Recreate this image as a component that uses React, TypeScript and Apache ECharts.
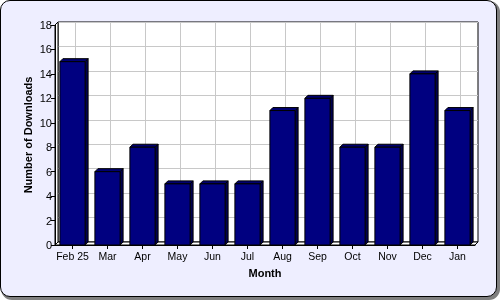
import React, { useEffect, useRef } from "react";
import * as echarts from "echarts";

const categories = ["Feb 25", "Mar", "Apr", "May", "Jun", "Jul", "Aug", "Sep", "Oct", "Nov", "Dec", "Jan"];
const downloads = [15, 6, 8, 5, 5, 5, 11, 12, 8, 8, 14, 11];
const yMin = 0;
const yMax = 18;
const yStep = 2;

const FONT = "'Liberation Sans', Arial, sans-serif";
const D = 3;

export default function App() {
  const ref = useRef<HTMLDivElement>(null);
  useEffect(() => {
    const chart = echarts.init(ref.current!, null, { renderer: "svg" });
    chart.setOption({
      animation: false,
      backgroundColor: "transparent",
      grid: [
        { left: 55, top: 25, width: 420, height: 220, show: false },
        { left: 58, top: 22, width: 420, height: 220, show: true, backgroundColor: "#ffffff", borderColor: "#000000", borderWidth: 1, z: 0 },
      ],
      xAxis: [
        {
          type: "category",
          gridIndex: 0,
          data: categories,
          axisLine: { show: true, lineStyle: { color: "#000", width: 1 } },
          axisTick: { show: true, alignWithLabel: true, length: 4, lineStyle: { color: "#000" } },
          axisLabel: { color: "#000", fontFamily: FONT, fontSize: 10.5, margin: 5, interval: 0 },
          splitLine: { show: false },
          name: "Month",
          nameLocation: "middle",
          nameGap: 22,
          nameMoveOverlap: false,
          nameTextStyle: { color: "#000", fontFamily: FONT, fontSize: 11, fontWeight: "bold" },
          z: 5,
        },
        { type: "category", gridIndex: 1, data: categories, show: false },
      ],
      yAxis: [
        {
          type: "value",
          gridIndex: 0,
          min: yMin,
          max: yMax,
          interval: yStep,
          axisLine: { show: true, lineStyle: { color: "#000", width: 1 } },
          axisTick: { show: true, length: 4, lineStyle: { color: "#000" } },
          axisLabel: { color: "#000", fontFamily: FONT, fontSize: 11, margin: 3 },
          splitLine: { show: false },
          name: "Number of Downloads",
          nameLocation: "middle",
          nameGap: 22,
          nameMoveOverlap: false,
          nameTextStyle: { color: "#000", fontFamily: FONT, fontSize: 11, fontWeight: "bold" },
          z: 5,
        },
        {
          type: "value",
          gridIndex: 1,
          min: yMin,
          max: yMax,
          interval: yStep,
          axisLine: { show: false },
          axisTick: { show: false },
          axisLabel: { show: false },
          splitLine: { show: true, lineStyle: { color: "#c8c8c8", width: 1 } },
        },
      ],
      series: [
        {
          type: "custom",
          xAxisIndex: 0,
          yAxisIndex: 0,
          z: 1,
          data: [[0, 0]],
          renderItem: (params: any, api: any) => {
            const bw = api.size([1, 0])[0];
            const first = api.coord([0, yMin]);
            const last = api.coord([categories.length - 1, yMin]);
            const top = api.coord([0, yMax])[1];
            const xl = first[0] - bw / 2;
            const xr = last[0] + bw / 2;
            const yb = first[1];
            const st = { fill: "#ffffff", stroke: "#000000", lineWidth: 1 };
            return {
              type: "group",
              children: [
                { type: "polygon", shape: { points: [[xl, yb], [xl, top], [xl + D, top - D], [xl + D, yb - D]] }, style: st },
                { type: "polygon", shape: { points: [[xl, yb], [xr, yb], [xr + D, yb - D], [xl + D, yb - D]] }, style: st },
              ],
            };
          },
        },
        {
          type: "custom",
          xAxisIndex: 0,
          yAxisIndex: 0,
          z: 2,
          data: downloads.map((v, i) => [i, v]),
          encode: { x: 0, y: 1 },
          renderItem: (params: any, api: any) => {
            const i = api.value(0);
            const v = api.value(1);
            const bw = api.size([1, 0])[0] * 0.72;
            const t = api.coord([i, v]);
            const b = api.coord([i, yMin]);
            const top = api.coord([i, yMax])[1];
            const cx = t[0];
            const x0 = cx - bw / 2;
            const x1 = cx + bw / 2;
            const yt = t[1];
            const yb = b[1];
            return {
              type: "group",
              children: [
                { type: "line", shape: { x1: cx + D, y1: top - D, x2: cx + D, y2: yb - D }, style: { stroke: "#c8c8c8", lineWidth: 1 } },
                { type: "polygon", shape: { points: [[x1, yt], [x1 + D, yt - D], [x1 + D, yb - D], [x1, yb]] }, style: { fill: "#000050", stroke: "#000", lineWidth: 1 } },
                { type: "polygon", shape: { points: [[x0, yt], [x0 + D, yt - D], [x1 + D, yt - D], [x1, yt]] }, style: { fill: "#000070", stroke: "#000", lineWidth: 1 } },
                { type: "rect", shape: { x: x0, y: yt, width: bw, height: yb - yt }, style: { fill: "#000080", stroke: "#000", lineWidth: 1 } },
              ],
            };
          },
        },
      ],
    });
    return () => chart.dispose();
  }, []);

  return (
    <div style={{ position: "fixed", left: 0, top: 0, width: 500, height: 300 }}>
      <div
        style={{
          position: "absolute",
          left: 0,
          top: 0,
          width: 495,
          height: 295,
          background: "#eeeeff",
          border: "1px solid #000",
          borderRadius: 10,
          boxShadow: "2px 2px 0 1px #7f7f7f",
        }}
      />
      <div ref={ref} style={{ position: "absolute", left: 0, top: 0, width: 500, height: 300 }} />
    </div>
  );
}
